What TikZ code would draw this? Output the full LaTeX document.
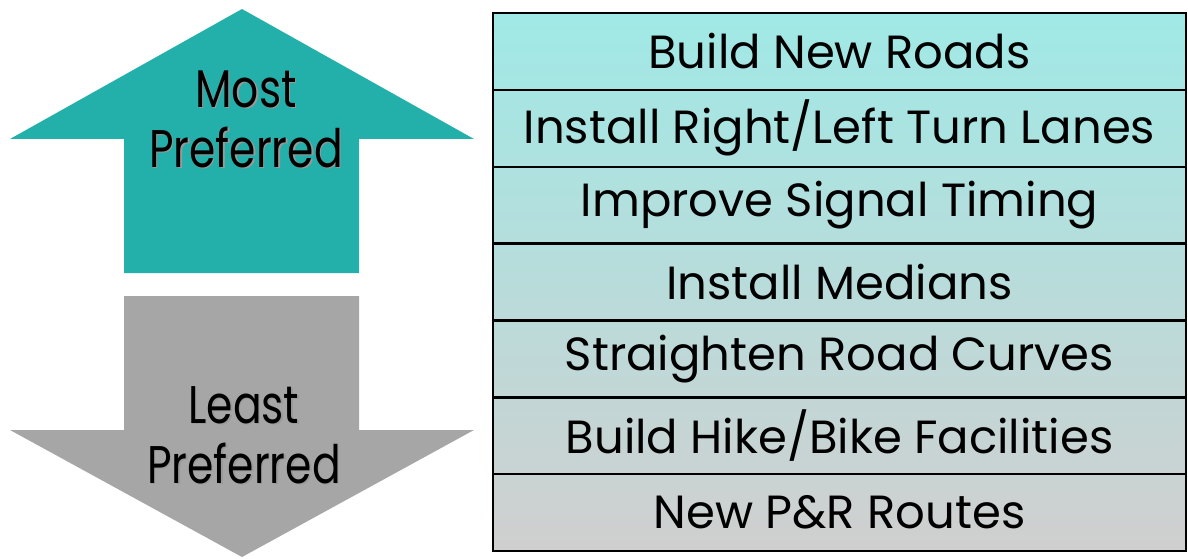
\documentclass[tikz,border=0pt]{standalone}
\usepackage{fontspec}
\setmainfont{Poppins}
\usetikzlibrary{positioning}
\definecolor{teal1}{RGB}{35,176,170}
\definecolor{gray1}{RGB}{166,166,166}
\definecolor{toprow}{RGB}{160,233,230}
\definecolor{botrow}{RGB}{208,207,207}
\newcommand\narrowtxt[1]{\scalebox{0.8}[1]{#1}}
\begin{document}
\begin{tikzpicture}[x=1pt,y=-1pt,
  rowbox/.style={draw=black,line width=2.4pt,minimum width=693pt,minimum height=76.86pt,inner sep=0pt,font=\fontsize{46.5}{50}\selectfont},
  arrlabel/.style={align=center,font=\fontsize{53}{60}\selectfont,inner sep=0pt},
  shadowlabel/.style={arrlabel,text=black!40}]
\useasboundingbox (0,0) rectangle (1188,559);
% arrows
\fill[teal1] (242,9) -- (474,139) -- (359,139) -- (359,273) -- (124,273) -- (124,139) -- (10,139) -- cycle;
\fill[gray1] (124,296) -- (359,296) -- (359,430) -- (474,430) -- (242,557) -- (10,430) -- (124,430) -- cycle;
\node[shadowlabel] (mpS) at (247.3,120.3) {\narrowtxt{Most}\\\narrowtxt{Preferred}};
\node[arrlabel] (mp) at (246,119) {\narrowtxt{Most}\\\narrowtxt{Preferred}};
\node[shadowlabel] (lpS) at (245.3,436.3) {\narrowtxt{Least}\\\narrowtxt{Preferred}};
\node[arrlabel] (lp) at (244,435) {\narrowtxt{Least}\\\narrowtxt{Preferred}};
% table
\shade[top color=toprow,bottom color=botrow] (493,13) rectangle (1186,551);
\foreach \t [count=\i] in {Build New Roads,Install Right/Left Turn Lanes,Improve Signal Timing,Install Medians,Straighten Road Curves,Build Hike/Bike Facilities,New P\&R Routes}{
  \node[rowbox] (r\i) at (839.5,{13+76.86*(\i-0.5)}) {\t};
}
\end{tikzpicture}
\end{document}
